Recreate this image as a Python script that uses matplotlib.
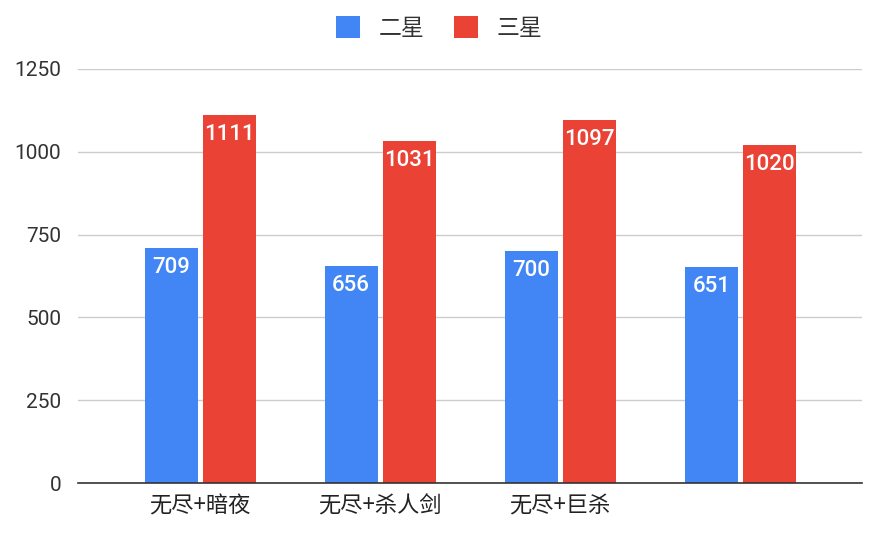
import numpy as np
import matplotlib.pyplot as plt

plt.rcParams['font.family'] = ['Noto Sans CJK SC', 'DejaVu Sans']

categories = ['无尽+暗夜', '无尽+杀人剑', '无尽+巨杀', '']
two_star = [709, 656, 700, 651]
three_star = [1111, 1031, 1097, 1020]
series_names = ['二星', '三星']
colors = ['#4285F4', '#EA4335']
yticks = [0, 250, 500, 750, 1000, 1250]

fig = plt.figure(figsize=(8.8, 5.38), dpi=100)
ax = fig.add_axes([0.0886, 0.102, 0.8914, 0.770])

x = np.arange(len(categories))
w = 0.294
off = 0.161
b1 = ax.bar(x - off, two_star, w, color=colors[0], label=series_names[0], zorder=3)
b2 = ax.bar(x + off, three_star, w, color=colors[1], label=series_names[1], zorder=3)

# value labels inside the bar tops
for bars, vals in [(b1, two_star), (b2, three_star)]:
    for rect, v in zip(bars, vals):
        ax.annotate(str(v), (rect.get_x() + rect.get_width() / 2, v),
                    xytext=(0, -14), textcoords='offset points',
                    ha='center', va='center', color='white', fontsize=16,
                    family='Roboto', weight='medium', zorder=4)

ax.set_xlim(-0.678, 3.678)
ax.set_ylim(0, 1250)
ax.set_yticks(yticks)
ax.set_yticklabels([str(t) for t in yticks], family='Roboto', fontsize=15, color='#333333')
ax.set_xticks(x)
ax.set_xticklabels(categories, fontsize=16, color='#222222')
ax.tick_params(axis='y', length=0, pad=12)
ax.tick_params(axis='x', length=0, pad=8)
ax.yaxis.grid(True, color='#cccccc', linewidth=1, zorder=0)
for s in ['top', 'right', 'left']:
    ax.spines[s].set_visible(False)
ax.spines['bottom'].set_color('#333333')
ax.spines['bottom'].set_linewidth(1.2)
ax.spines['bottom'].set_zorder(5)

leg = fig.legend(loc='center', bbox_to_anchor=(0.499, 0.948), ncol=2, frameon=False,
                 fontsize=16.5, handlelength=1.05, handleheight=1.05, columnspacing=1.3,
                 handletextpad=0.8)
for t in leg.get_texts():
    t.set_color('#333333')

fig.savefig('out.png', dpi=100)
